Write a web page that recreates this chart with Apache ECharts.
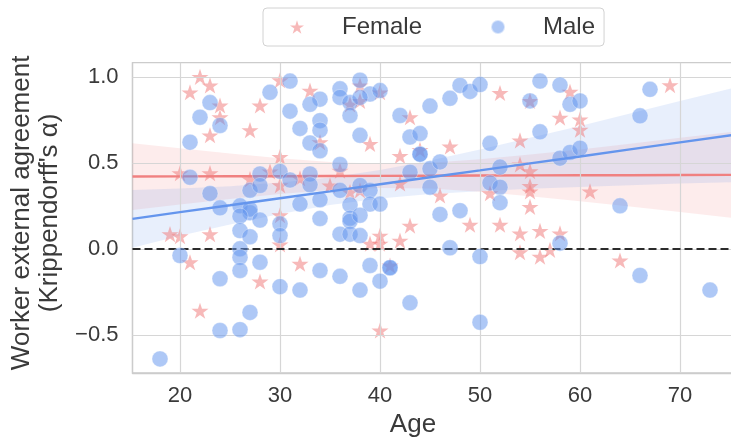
<!DOCTYPE html>
<html>
<head>
<meta charset="utf-8">
<script src="https://cdn.jsdelivr.net/npm/echarts@6/dist/echarts.min.js"></script>
<style>
html,body{margin:0;padding:0;background:#fff;}
#chart{width:731px;height:442px;}
</style>
</head>
<body>
<div id="chart"></div>
<script>
// ---- data ----
const xTicks = [20, 30, 40, 50, 60, 70];
const yTicks = [-0.5, 0.0, 0.5, 1.0];

const femaleData = [
  [22,1.0],[23,0.95],[21,0.91],[24,0.833],[24,0.765],[28,0.833],[23,0.66],[27,0.69],
  [30,0.98],[30,0.535],[20,0.44],[23,0.44],[27,0.405],[29,0.45],[30,0.37],[30,0.195],
  [19,0.085],[20,0.073],[23,0.085],[21,-0.078],[28,-0.19],[22,-0.36],[30,0.025],
  [33,0.92],[38,0.95],[40,0.91],[37,0.84],[38,0.86],[43,0.765],[34,0.62],[39,0.61],
  [42,0.54],[44,0.575],[36,0.455],[32,0.41],[35,0.368],[37,0.33],[38,0.34],[42,0.38],
  [40,0.077],[39,0.03],[40,0.03],[42,0.048],[43,0.135],[32,-0.087],[41,-0.097],[40,-0.475],
  [52,0.906],[55,0.86],[59,0.913],[58,0.763],[60,0.753],[60,0.692],[47,0.595],[54,0.63],
  [54,0.49],[55,0.452],[46,0.31],[51,0.323],[55,0.365],[55,0.333],[55,0.244],[49,0.14],
  [52,0.14],[54,0.09],[56,0.104],[58,0.09],[54,-0.02],[56,-0.045],[57,-0.006],
  [69,0.952],[61,0.334],[64,-0.068]
];

const maleData = [
  [29,0.91],[23,0.85],[22,0.765],[24,0.717],[21,0.62],[21,0.416],[28,0.435],[30,0.45],
  [23,0.322],[27,0.34],[28,0.368],[24,0.238],[26,0.25],[27,0.21],[27,0.23],[26,0.19],[28,0.167],
  [20,-0.039],[26,0.106],[27,0.07],[26,0.0],[26,-0.049],[28,-0.078],[26,-0.126],[24,-0.174],
  [30,0.145],[30,0.077],[30,-0.22],[27,-0.37],[24,-0.475],[26,-0.47],[18,-0.64],
  [31,0.975],[36,0.93],[38,0.98],[39,0.90],[40,0.92],[34,0.87],[36,0.88],[33,0.84],[37,0.85],
  [38,0.88],[31,0.80],[37,0.775],[34,0.745],[32,0.70],[34,0.69],[33,0.615],[34,0.57],[38,0.66],
  [42,0.775],[45,0.83],[43,0.65],[44,0.67],[44,0.55],[44,0.55],[36,0.49],[33,0.435],[31,0.40],
  [33,0.372],[36,0.34],[38,0.368],[39,0.34],[43,0.445],[45,0.465],[45,0.358],[34,0.285],
  [32,0.26],[37,0.255],[39,0.26],[40,0.26],[34,0.176],[37,0.178],[37,0.16],[38,0.195],
  [36,0.085],[37,0.085],[38,0.077],[34,-0.126],[36,-0.16],[39,-0.097],[41,-0.11],[41,-0.11],
  [40,-0.188],[38,-0.24],[32,-0.24],[43,-0.314],
  [47,0.875],[48,0.95],[49,0.915],[50,0.955],[55,0.86],[56,0.975],[58,0.952],[59,0.84],[60,0.86],
  [51,0.613],[56,0.68],[46,0.505],[52,0.475],[58,0.527],[59,0.56],[60,0.585],[51,0.383],
  [52,0.358],[52,0.268],[46,0.2],[48,0.222],[58,0.033],[47,0.006],[50,-0.045],[50,-0.427],
  [67,0.927],[66,0.773],[64,0.25],[66,-0.155],[73,-0.24]
];

// regression lines and confidence bands
const fitAge    = [15.25, 20, 25, 30, 35, 40, 45, 50, 55, 60, 65, 70, 75.75];
const femaleFit = [0.420,0.421,0.422,0.422,0.423,0.424,0.425,0.426,0.427,0.428,0.428,0.429,0.430];
const femaleLo  = [0.226,0.258,0.289,0.318,0.342,0.354,0.350,0.332,0.306,0.277,0.246,0.214,0.176];
const femaleHi  = [0.614,0.584,0.554,0.527,0.505,0.495,0.500,0.520,0.548,0.578,0.611,0.645,0.684];
const maleFit   = [0.174,0.213,0.253,0.294,0.334,0.375,0.416,0.456,0.497,0.537,0.578,0.619,0.665];
const maleLo    = [0.006,0.076,0.142,0.203,0.254,0.292,0.318,0.335,0.349,0.360,0.370,0.379,0.388];
const maleHi    = [0.342,0.350,0.364,0.385,0.415,0.458,0.514,0.577,0.645,0.714,0.786,0.859,0.942];

// ---- chart ----
const FONT = '"Liberation Sans", Arial, "DejaVu Sans", sans-serif';
const TXT = '#3a3a3a';
const PINK = '#F08080';
const BLUE = '#6495ED';
const STAR = 'path://M100,0L122.45,69.1L195.1,69.1L136.33,111.8L158.8,180.9L100,138.2L41.2,180.9L63.67,111.8L4.9,69.1L77.55,69.1Z';

function band(lo, hi, fill) {
  return {
    type: 'custom', silent: true, z: 2,
    data: [[fitAge[0], lo[0]]],
    renderItem: function (params, api) {
      if (params.dataIndex !== 0) return;
      const pts = [];
      for (let i = 0; i < fitAge.length; i++) pts.push(api.coord([fitAge[i], hi[i]]));
      for (let i = fitAge.length - 1; i >= 0; i--) pts.push(api.coord([fitAge[i], lo[i]]));
      return { type: 'polygon', shape: { points: pts }, style: { fill: fill } };
    }
  };
}

const chart = echarts.init(document.getElementById('chart'), null, { renderer: 'canvas' });
chart.setOption({
  animation: false,
  backgroundColor: '#ffffff',
  textStyle: { fontFamily: FONT },
  grid: {
    left: 132.5, top: 62.7, right: -6.5, bottom: 69,
    containLabel: false, outerBoundsMode: 'none',
    show: true, borderColor: '#cccccc', borderWidth: 1.3, backgroundColor: 'transparent'
  },
  legend: {
    data: ['Female', 'Male'],
    left: 263, top: 8,
    padding: [7, 9, 7, 27],
    itemGap: 68, itemWidth: 14, itemHeight: 14,
    borderColor: '#d2d2d2', borderWidth: 1, borderRadius: 4,
    textStyle: { fontSize: 24, color: TXT, fontFamily: FONT, padding: [0, 0, 0, 33] }
  },
  xAxis: {
    type: 'value', min: 15.25, max: 75.75,
    name: 'Age', nameLocation: 'middle', nameGap: 39,
    nameTextStyle: { fontSize: 26, color: TXT, fontFamily: FONT, padding: [0, 44, 0, 0] },
    axisLine: { show: true, onZero: false, lineStyle: { color: '#cccccc', width: 1.3 } },
    axisTick: { show: false },
    splitLine: { show: false },
    axisLabel: { customValues: xTicks, fontSize: 22, color: TXT, fontFamily: FONT, margin: 12 }
  },
  yAxis: {
    type: 'value', min: -0.722, max: 1.082,
    name: 'Worker external agreement\n(Krippendorff\'s α)',
    nameLocation: 'middle', nameGap: 69, nameRotate: 90,
    nameTextStyle: { fontSize: 26, color: TXT, fontFamily: FONT, lineHeight: 28, padding: [0, 0, 0, 10] },
    axisLine: { show: true, onZero: false, lineStyle: { color: '#cccccc', width: 1.3 } },
    axisTick: { show: false },
    splitLine: { show: false },
    axisLabel: {
      customValues: yTicks, fontSize: 22, color: TXT, fontFamily: FONT, margin: 14,
      formatter: function (v) { return v.toFixed(1).replace('-', '\u2212'); }
    }
  },
  series: [
    { // grid lines
      type: 'line', data: [], silent: true, z: 0,
      markLine: {
        silent: true, symbol: 'none', label: { show: false }, animation: false,
        lineStyle: { color: '#d6d6d6', width: 1.2, type: 'solid' },
        data: xTicks.map(v => ({ xAxis: v })).concat(yTicks.map(v => ({ yAxis: v })))
      }
    },
    {
      name: 'Female', type: 'scatter', z: 3, symbol: STAR, symbolSize: 17, symbolKeepAspect: true,
      itemStyle: { color: PINK, opacity: 0.55 },
      data: femaleData
    },
    band(femaleLo, femaleHi, 'rgba(240,128,128,0.15)'),
    {
      name: 'Female fit', type: 'line', z: 4, symbol: 'none', silent: true,
      lineStyle: { color: PINK, width: 2.4 },
      data: fitAge.map((x, i) => [x, femaleFit[i]])
    },
    {
      name: 'Male', type: 'scatter', z: 5, symbol: 'circle', symbolSize: 16,
      itemStyle: { color: BLUE, opacity: 0.52, borderColor: '#ffffff', borderWidth: 0.6 },
      data: maleData
    },
    band(maleLo, maleHi, 'rgba(100,149,237,0.15)'),
    {
      name: 'Male fit', type: 'line', z: 6, symbol: 'none', silent: true,
      lineStyle: { color: BLUE, width: 2.4 },
      data: fitAge.map((x, i) => [x, maleFit[i]])
    },
    { // zero reference
      type: 'line', data: [], silent: true, z: 10,
      markLine: {
        silent: true, symbol: 'none', label: { show: false }, animation: false,
        lineStyle: { color: '#2b2b2b', width: 2, type: [8, 4] },
        data: [{ yAxis: 0 }]
      }
    }
  ]
});
</script>
</body>
</html>
